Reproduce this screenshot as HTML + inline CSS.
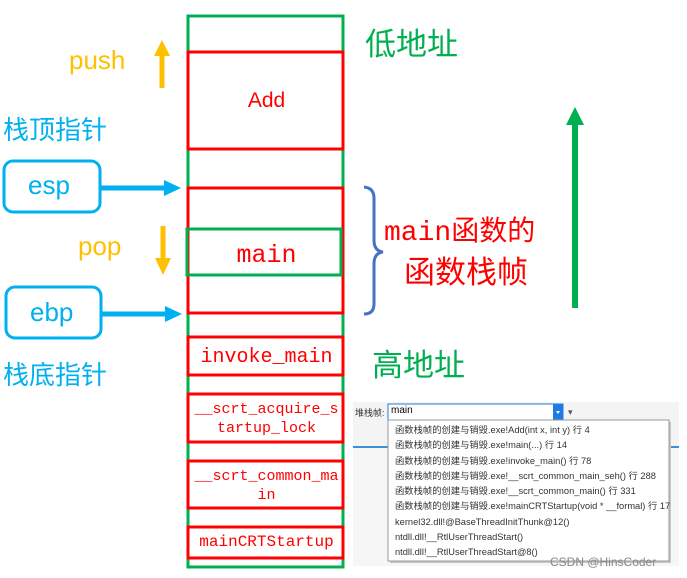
<!DOCTYPE html>
<html><head><meta charset="utf-8"><style>
body{margin:0;width:687px;height:578px;background:#fff;overflow:hidden;position:relative;font-family:"Liberation Sans","Noto Sans CJK SC",sans-serif}
.t{position:absolute;white-space:nowrap}
.cn{font-family:"Noto Sans CJK SC",sans-serif}
.mono{font-family:"Liberation Mono","Noto Sans CJK SC",monospace}
</style></head><body>
<svg width="687" height="578" style="position:absolute;left:0;top:0">
<rect x="188" y="16" width="155" height="551" fill="none" stroke="#00b050" stroke-width="3"/>
<rect x="188" y="52" width="155" height="97" fill="none" stroke="#ff0000" stroke-width="3"/>
<rect x="188" y="188" width="155" height="125" fill="none" stroke="#ff0000" stroke-width="3"/>
<rect x="187" y="229" width="154" height="46" fill="none" stroke="#00b050" stroke-width="3"/>
<rect x="188" y="337" width="155" height="38" fill="none" stroke="#ff0000" stroke-width="3"/>
<rect x="188" y="394" width="155" height="48" fill="none" stroke="#ff0000" stroke-width="3"/>
<rect x="188" y="461" width="155" height="47" fill="none" stroke="#ff0000" stroke-width="3"/>
<rect x="188" y="527" width="155" height="31" fill="none" stroke="#ff0000" stroke-width="3"/>
<rect x="4" y="161" width="96" height="51" rx="9" fill="none" stroke="#00b0f0" stroke-width="3"/>
<rect x="6" y="287" width="95" height="51" rx="9" fill="none" stroke="#00b0f0" stroke-width="3"/>
<line x1="100" y1="188" x2="166" y2="188" stroke="#00b0f0" stroke-width="5"/>
<polygon points="164,180 181,188 164,196" fill="#00b0f0"/>
<line x1="101" y1="314" x2="167" y2="314" stroke="#00b0f0" stroke-width="5"/>
<polygon points="165,306 182,314 165,322" fill="#00b0f0"/>
<line x1="162" y1="88" x2="162" y2="54" stroke="#ffc000" stroke-width="5"/>
<polygon points="154,56 162,40 170,56" fill="#ffc000"/>
<line x1="163" y1="226" x2="163" y2="260" stroke="#ffc000" stroke-width="5"/>
<polygon points="155,258 163,275 171,258" fill="#ffc000"/>
<line x1="575" y1="308" x2="575" y2="122" stroke="#00b050" stroke-width="6"/>
<polygon points="566,125 575,107 584,125" fill="#00b050"/>
<path d="M364,187 Q374,188 374,198 L374,240 Q374,251 383,252 Q374,253 374,264 L374,304 Q374,314 364,314" fill="none" stroke="#4472c4" stroke-width="3"/>
<rect x="353" y="402" width="326" height="164" fill="#f4f4f4"/>
<rect x="353" y="446" width="326" height="2" fill="#3c8fd8"/>
<rect x="353" y="448" width="326" height="118" fill="#f6f6f6"/>
<rect x="388" y="404" width="175" height="16" fill="#fff" stroke="#1e7be0" stroke-width="1"/>
<rect x="553" y="404" width="10" height="16" fill="#1e7be0"/>
<polygon points="556,411 560,411 558,414" fill="#fff"/>
<rect x="390" y="422" width="281" height="141" fill="#c8c8c8"/>
<rect x="388" y="420" width="281" height="141" fill="#fff" stroke="#999" stroke-width="1"/>
</svg>
<div class="t" style="left:69px;top:45px;font-size:26px;color:#ffc000">push</div>
<div class="t cn" style="left:3px;top:113px;font-size:26px;color:#00b0f0;line-height:32px">栈顶指针</div>
<div class="t" style="left:28px;top:170px;font-size:26px;color:#00b0f0">esp</div>
<div class="t" style="left:78px;top:231px;font-size:26px;color:#ffc000">pop</div>
<div class="t" style="left:30px;top:297px;font-size:26px;color:#00b0f0">ebp</div>
<div class="t cn" style="left:3px;top:358px;font-size:26px;color:#00b0f0;line-height:32px">栈底指针</div>
<div class="t" style="left:188px;top:89px;width:157px;text-align:center;font-size:21px;color:#f00">Add</div>
<div class="t mono" style="left:188px;top:241px;width:157px;text-align:center;font-size:25px;color:#f00">main</div>
<div class="t mono" style="left:188px;top:346px;width:157px;text-align:center;font-size:20px;color:#f00">invoke_main</div>
<div class="t mono" style="left:188px;top:400px;width:157px;text-align:center;font-size:15px;color:#f00;line-height:19px;white-space:normal">__scrt_acquire_s<br>tartup_lock</div>
<div class="t mono" style="left:188px;top:467px;width:157px;text-align:center;font-size:15px;color:#f00;line-height:19px;white-space:normal">__scrt_common_ma<br>in</div>
<div class="t mono" style="left:188px;top:533px;width:157px;text-align:center;font-size:16px;color:#f00">mainCRTStartup</div>
<div class="t cn" style="left:365px;top:21px;font-size:31px;color:#00b050;line-height:42px">低地址</div>
<div class="t cn" style="left:372px;top:342px;font-size:31px;color:#00b050;line-height:42px">高地址</div>
<div class="t" style="left:384px;top:215px;font-size:28px;color:#f00;line-height:38px;font-family:'Liberation Mono','Noto Sans CJK SC',monospace">main函数的</div>
<div class="t cn" style="left:404px;top:251px;font-size:31px;color:#f00;line-height:38px">函数栈帧</div>
<div class="t" style="left:355px;top:406px;font-size:9px;color:#333">堆栈帧:</div>
<div class="t" style="left:391px;top:405px;font-size:10px;color:#000">main</div>
<div class="t" style="left:568px;top:407px;font-size:9px;color:#555">▾</div>
<div class="t" style="left:395px;top:423px;font-size:9.3px;color:#333;line-height:15.3px">函数栈帧的创建与销毁.exe!Add(int x, int y) 行 4<br>函数栈帧的创建与销毁.exe!main(...) 行 14<br>函数栈帧的创建与销毁.exe!invoke_main() 行 78<br>函数栈帧的创建与销毁.exe!__scrt_common_main_seh() 行 288<br>函数栈帧的创建与销毁.exe!__scrt_common_main() 行 331<br>函数栈帧的创建与销毁.exe!mainCRTStartup(void * __formal) 行 17<br>kernel32.dll!@BaseThreadInitThunk@12()<br>ntdll.dll!__RtlUserThreadStart()<br>ntdll.dll!__RtlUserThreadStart@8()</div>
<div class="t" style="left:550px;top:555px;font-size:12px;color:#888">CSDN @HinsCoder</div>
</body></html>
